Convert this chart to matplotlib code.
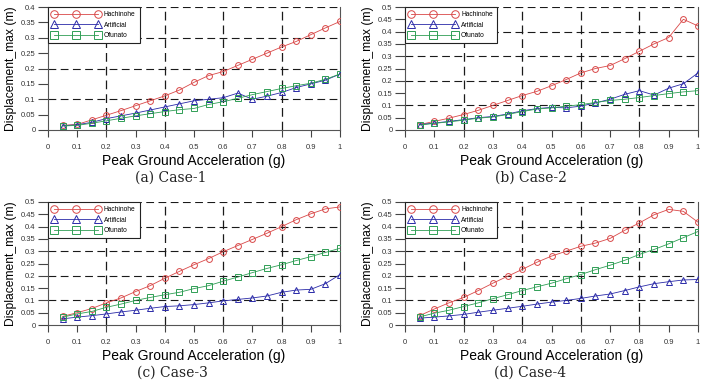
#!/usr/bin/env python3
"""Peak displacement vs PGA for four cases, three input motions each."""
import numpy as np
import matplotlib
matplotlib.use("Agg")
import matplotlib.pyplot as plt

pga = [0.05, 0.10, 0.15, 0.20, 0.25, 0.30, 0.35, 0.40, 0.45, 0.50,
       0.55, 0.60, 0.65, 0.70, 0.75, 0.80, 0.85, 0.90, 0.95, 1.00]

series_names = ["Hachinohe", "Artificial", "Ofunato"]
case_labels = ["(a) Case-1", "(b) Case-2", "(c) Case-3", "(d) Case-4"]

# Case-1
hachinohe_1 = [0.015, 0.018, 0.033, 0.048, 0.063, 0.079, 0.095, 0.111, 0.130, 0.155,
               0.177, 0.190, 0.210, 0.230, 0.250, 0.270, 0.288, 0.310, 0.332, 0.353]
artificial_1 = [0.014, 0.017, 0.025, 0.037, 0.046, 0.055, 0.065, 0.075, 0.085, 0.095,
                0.100, 0.105, 0.120, 0.100, 0.110, 0.122, 0.138, 0.150, 0.162, 0.182]
ofunato_1 = [0.013, 0.015, 0.022, 0.030, 0.038, 0.046, 0.053, 0.060, 0.066, 0.070,
             0.083, 0.092, 0.103, 0.115, 0.125, 0.135, 0.144, 0.152, 0.165, 0.182]

# Case-2
hachinohe_2 = [0.022, 0.035, 0.048, 0.063, 0.080, 0.100, 0.120, 0.140, 0.157, 0.180,
               0.205, 0.232, 0.250, 0.262, 0.290, 0.320, 0.350, 0.376, 0.450, 0.423]
artificial_2 = [0.022, 0.028, 0.035, 0.042, 0.050, 0.055, 0.065, 0.078, 0.087, 0.092,
                0.090, 0.097, 0.110, 0.125, 0.145, 0.160, 0.142, 0.170, 0.188, 0.232]
ofunato_2 = [0.020, 0.027, 0.033, 0.040, 0.048, 0.053, 0.063, 0.075, 0.085, 0.090,
             0.097, 0.103, 0.112, 0.120, 0.125, 0.132, 0.140, 0.148, 0.155, 0.160]

# Case-3
hachinohe_3 = [0.035, 0.050, 0.067, 0.090, 0.110, 0.136, 0.160, 0.190, 0.218, 0.245,
               0.270, 0.298, 0.323, 0.348, 0.373, 0.400, 0.428, 0.452, 0.472, 0.480]
artificial_3 = [0.025, 0.032, 0.038, 0.045, 0.053, 0.060, 0.068, 0.075, 0.078, 0.083,
                0.090, 0.098, 0.104, 0.110, 0.118, 0.133, 0.142, 0.145, 0.168, 0.205]
ofunato_3 = [0.032, 0.045, 0.055, 0.072, 0.085, 0.100, 0.112, 0.123, 0.133, 0.148,
             0.160, 0.178, 0.195, 0.213, 0.230, 0.245, 0.262, 0.278, 0.295, 0.312]

# Case-4
hachinohe_4 = [0.038, 0.065, 0.090, 0.112, 0.140, 0.170, 0.198, 0.226, 0.255, 0.280,
               0.300, 0.320, 0.333, 0.352, 0.385, 0.415, 0.448, 0.470, 0.462, 0.418]
artificial_4 = [0.028, 0.032, 0.037, 0.043, 0.052, 0.060, 0.068, 0.076, 0.085, 0.093,
                0.100, 0.108, 0.118, 0.126, 0.140, 0.155, 0.168, 0.176, 0.183, 0.185]
ofunato_4 = [0.033, 0.048, 0.060, 0.075, 0.090, 0.107, 0.123, 0.140, 0.155, 0.170,
             0.188, 0.205, 0.225, 0.243, 0.263, 0.287, 0.307, 0.330, 0.355, 0.380]

cases = [
    (hachinohe_1, artificial_1, ofunato_1),
    (hachinohe_2, artificial_2, ofunato_2),
    (hachinohe_3, artificial_3, ofunato_3),
    (hachinohe_4, artificial_4, ofunato_4),
]
y_max = [0.4, 0.5, 0.5, 0.5]

W, H = 711, 386
# axes boxes in pixels: left, top, right, bottom
boxes = [(48, 7, 340, 130), (405, 7, 698, 130),
         (48, 202, 340, 325), (405, 202, 698, 325)]
caption_xy = [(171, 178), (531, 178), (172, 373), (530, 373)]

styles = [
    dict(color="#d94848", marker="o", mfc="none", mec="#d94848"),
    dict(color="#2a2aa8", marker="^", mfc="none", mec="#2a2aa8"),
    dict(color="#2f9e55", marker="s", mfc="none", mec="#2f9e55"),
]

plt.rcParams["font.family"] = ["Liberation Sans", "DejaVu Sans"]

fig = plt.figure(figsize=(W / 100, H / 100), dpi=100)

for i, (data, ymax) in enumerate(zip(cases, y_max)):
    l, t, r, b = boxes[i]
    ax = fig.add_axes([l / W, 1 - b / H, (r - l) / W, (b - t) / H])

    for vals, name, st in zip(data, series_names, styles):
        ax.plot(pga, vals, label=name, lw=0.6, ms=4.2, mew=0.7, zorder=3, **st)

    # dashed grid only every 0.2 in x and 0.1 in y
    for gx in [0.2, 0.4, 0.6, 0.8]:
        ax.axvline(gx, color="#1a1a1a", lw=0.9, ls=(0, (7, 4)), zorder=1)
    for gy in np.arange(0.1, ymax + 0.001, 0.1):
        ax.axhline(gy, color="#1a1a1a", lw=0.8, ls=(0, (7, 4)), zorder=1)

    ax.set_xlim(0, 1)
    ax.set_ylim(0, ymax)
    ax.set_xticks(np.round(np.arange(0, 1.01, 0.1), 2))
    ax.set_yticks(np.round(np.arange(0, ymax + 0.001, 0.05), 2))
    ax.set_xticklabels([f"{v:g}" for v in ax.get_xticks()])
    ax.set_yticklabels([f"{v:g}" for v in ax.get_yticks()])
    ax.tick_params(direction="out", length=7, width=0.8, color="#444444",
                   labelsize=5.5, labelcolor="#333333")
    ax.tick_params(axis="x", length=5, pad=5)
    ax.tick_params(axis="y", pad=2)

    ax.spines["top"].set_visible(False)
    for s in ["left", "bottom", "right"]:
        ax.spines[s].set_color("#555555")
        ax.spines[s].set_linewidth(0.8)

    ax.set_ylabel("Displacement_max (m)", fontsize=8.7, labelpad=3)
    ax.set_xlabel("Peak Ground Acceleration (g)", fontsize=10, labelpad=2)

    leg = ax.legend(loc="upper left", bbox_to_anchor=(0, 1), borderaxespad=0,
                    fontsize=4.8, numpoints=3, handlelength=7.2, markerscale=1.3,
                    frameon=True, fancybox=False, edgecolor="#222222",
                    framealpha=1, labelspacing=0.55, borderpad=0.6,
                    handletextpad=0.6)
    leg.get_frame().set_linewidth(0.8)
    leg.set_zorder(5)

    cx, cy = caption_xy[i]
    fig.text(cx / W, 1 - cy / H, case_labels[i], ha="center", va="center",
             fontsize=10, family="DejaVu Serif", color="#222222")

fig.savefig("out.png", dpi=100)
